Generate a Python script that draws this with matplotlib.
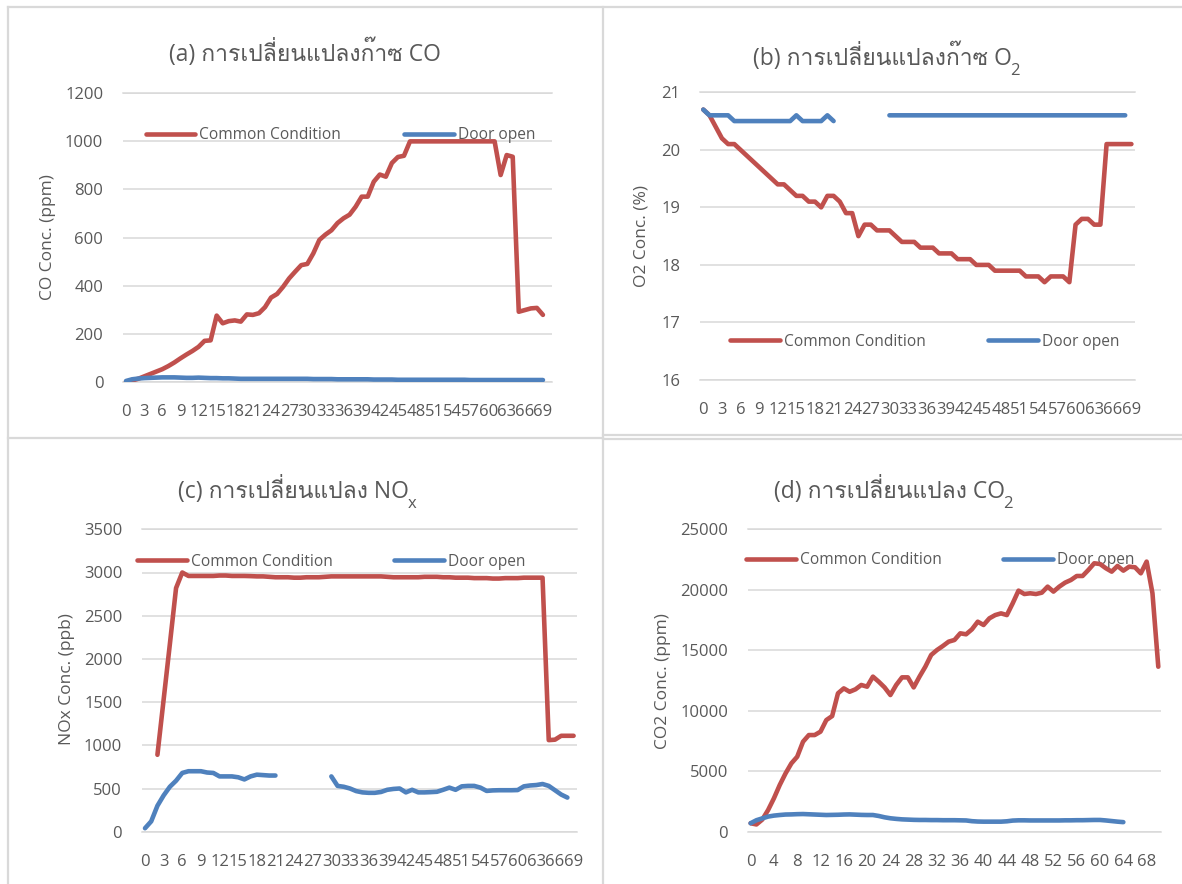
import numpy as np
import matplotlib
matplotlib.use("Agg")
import matplotlib.pyplot as plt
from matplotlib import font_manager
from matplotlib.ft2font import FT2Font
from matplotlib.legend import Legend
from matplotlib.lines import Line2D

nan = np.nan

# ---- data: one reading per minute ----
co_common = [0, 5, 12, 22, 32, 42, 52, 65, 80, 97,
             113, 128, 145, 170, 172, 275, 243, 252, 255, 250,
             280, 278, 285, 310, 350, 365, 395, 430, 458, 485,
             490, 534, 590, 612, 630, 660, 680, 695, 728, 770,
             770, 832, 862, 853, 910, 935, 940, 1000, 1000, 1000,
             1000, 1000, 1000, 1000, 1000, 1000, 1000, 1000, 1000, 1000,
             1000, 1000, 860, 943, 936, 291, 298, 305, 307, 278]
co_door = [3, 10, 13, 15, 16, 17, 18, 18, 18, 17,
           16, 16, 17, 16, 15, 15, 14, 14, 13, 12,
           12, 12, 12, 12, 12, 12, 12, 12, 12, 12,
           12, 11, 11, 11, 11, 10, 10, 10, 10, 10,
           10, 9, 9, 9, 9, 8, 8, 8, 8, 8,
           8, 8, 8, 8, 8, 8, 8, 7, 7, 7,
           7, 7, 7, 7, 7, 7, 7, 7, 7, 7]

o2_common = [20.7, 20.6, 20.4, 20.2, 20.1, 20.1, 20.0, 19.9, 19.8, 19.7,
             19.6, 19.5, 19.4, 19.4, 19.3, 19.2, 19.2, 19.1, 19.1, 19.0,
             19.2, 19.2, 19.1, 18.9, 18.9, 18.5, 18.7, 18.7, 18.6, 18.6,
             18.6, 18.5, 18.4, 18.4, 18.4, 18.3, 18.3, 18.3, 18.2, 18.2,
             18.2, 18.1, 18.1, 18.1, 18.0, 18.0, 18.0, 17.9, 17.9, 17.9,
             17.9, 17.9, 17.8, 17.8, 17.8, 17.7, 17.8, 17.8, 17.8, 17.7,
             18.7, 18.8, 18.8, 18.7, 18.7, 20.1, 20.1, 20.1, 20.1, 20.1]
o2_door = [20.7, 20.6, 20.6, 20.6, 20.6, 20.5, 20.5, 20.5, 20.5, 20.5,
           20.5, 20.5, 20.5, 20.5, 20.5, 20.6, 20.5, 20.5, 20.5, 20.5,
           20.6, 20.5, nan, nan, nan, nan, nan, nan, nan, nan,
           20.6, 20.6, 20.6, 20.6, 20.6, 20.6, 20.6, 20.6, 20.6, 20.6,
           20.6, 20.6, 20.6, 20.6, 20.6, 20.6, 20.6, 20.6, 20.6, 20.6,
           20.6, 20.6, 20.6, 20.6, 20.6, 20.6, 20.6, 20.6, 20.6, 20.6,
           20.6, 20.6, 20.6, 20.6, 20.6, 20.6, 20.6, 20.6, 20.6, nan]

nox_common = [nan, nan, 890, 1530, 2170, 2820, 3000, 2960, 2960, 2960,
              2960, 2960, 2965, 2965, 2960, 2960, 2960, 2958, 2955, 2955,
              2950, 2945, 2945, 2945, 2940, 2940, 2945, 2945, 2945, 2950,
              2955, 2955, 2955, 2955, 2955, 2955, 2955, 2955, 2955, 2950,
              2945, 2945, 2945, 2945, 2945, 2950, 2950, 2950, 2945, 2945,
              2940, 2940, 2940, 2935, 2935, 2935, 2930, 2930, 2935, 2935,
              2935, 2940, 2940, 2940, 2940, 1060, 1065, 1110, 1110, 1110]
nox_door = [40, 120, 300, 420, 520, 590, 680, 700, 700, 700,
            685, 680, 640, 640, 640, 630, 605, 640, 660, 655,
            650, 650, nan, nan, nan, nan, nan, nan, nan, nan,
            640, 530, 520, 500, 470, 455, 450, 450, 460, 485,
            495, 500, 455, 485, 455, 455, 458, 462, 485, 510,
            485, 525, 530, 530, 510, 472, 478, 480, 480, 480,
            482, 525, 535, 540, 552, 530, 480, 430, 395, nan]

co2_common = [700, 600, 1000, 1790, 2760, 3860, 4820, 5650, 6200, 7440,
              7990, 7990, 8270, 9230, 9560, 11440, 11850, 11570, 11770, 12130,
              11990, 12820, 12400, 11930, 11300, 12130, 12760, 12760, 11930, 12820,
              13640, 14610, 15020, 15350, 15710, 15850, 16400, 16320, 16730, 17360,
              17090, 17640, 17910, 18050, 17910, 18880, 19930, 19650, 19710, 19650,
              19760, 20260, 19850, 20260, 20590, 20810, 21140, 21140, 21640, 22190,
              22130, 21780, 21500, 21970, 21580, 21910, 21860, 21360, 22330, 19710,
              13640]
co2_door = [700, 950, 1100, 1250, 1330, 1380, 1420, 1430, 1450, 1460,
            1440, 1420, 1400, 1380, 1390, 1400, 1420, 1430, 1410, 1390,
            1380, 1380, 1300, 1190, 1110, 1060, 1020, 1000, 980, 970,
            970, 960, 960, 950, 950, 950, 940, 930, 870, 840,
            830, 830, 830, 830, 860, 920, 940, 940, 930, 930,
            930, 930, 930, 930, 940, 940, 950, 950, 960, 970,
            970, 930, 880, 830, 790, nan, nan, nan, nan, nan,
            nan]

series_names = ["Common Condition", "Door open"]
titles = ["(a) การเปลี่ยนแปลงก๊าซ CO", "(b) การเปลี่ยนแปลงก๊าซ O",
          "(c) การเปลี่ยนแปลง NO", "(d) การเปลี่ยนแปลง CO"]
title_subs = ["", "2", "x", "2"]
ylabels = ["CO Conc. (ppm)", "O2 Conc. (%)", "NOx Conc. (ppb)", "CO2 Conc. (ppm)"]
yticks = [np.arange(0, 1201, 200), np.arange(16, 22, 1),
          np.arange(0, 3501, 500), np.arange(0, 25001, 5000)]


def find_thai_family():
    for f in font_manager.fontManager.ttflist:
        try:
            if 0x0E01 in FT2Font(f.fname).get_charmap():
                return f.name
        except Exception:
            continue
    return None


thai = find_thai_family()
families = ["Open Sans"] + ([thai] if thai else []) + ["DejaVu Sans"]
plt.rcParams["font.family"] = families

RED = "#C0504D"
BLUE = "#4F81BD"
GRID = "#D9D9D9"
TXT = "#595959"

W, H = 1182, 884
fig = plt.figure(figsize=(W / 100, H / 100), dpi=100)


def fxy(x, y):
    return x / W, 1 - y / H


# chart frames (pixel coordinates, y down)
frames = [((7.5, 7.5), (7.3, 884)), ((603.3, 603.3), (7.3, 884)),
          ((7.5, 1182), (7.3, 7.3)), ((7.5, 603.3), (438.3, 438.3)),
          ((603.3, 1182), (435.2, 435.2)), ((603.3, 1182), (439.3, 439.3))]
for xs, ys in frames:
    fig.add_artist(Line2D([x / W for x in xs], [1 - y / H for y in ys],
                          color=GRID, lw=1.6, transform=fig.transFigure))

panels = [
    # axes box (left, top, right, bottom) px, xlim right, tick step,
    # title (center x, baseline y), ylabel (x, y), legend (red x, blue x, y)
    dict(data=(co_common, co_door), box=(123, 93.3, 552, 381.7), xmax=70.5, step=3,
         title=(305, 61), ylab=(48, 237.5), leg=(145.7, 404, 135)),
    dict(data=(o2_common, o2_door), box=(700.2, 92.3, 1134.5, 380), xmax=69.5, step=3,
         title=(882, 65), ylab=(641.6, 236), leg=(730.2, 988.2, 341.7)),
    dict(data=(nox_common, nox_door), box=(141.9, 529.3, 576.7, 831.7), xmax=69.5, step=3,
         title=(293.7, 498.3), ylab=(67, 679), leg=(136.9, 394.2, 561.7)),
    dict(data=(co2_common, co2_door), box=(747.7, 529.3, 1161.2, 831.7), xmax=70.5, step=4,
         title=(889.6, 498.3), ylab=(663, 681), leg=(746.2, 1003.1, 560)),
]

for i, p in enumerate(panels):
    left, top, right, bottom = p["box"]
    ax = fig.add_axes([left / W, 1 - bottom / H, (right - left) / W, (bottom - top) / H])
    common, door = p["data"]
    x = np.arange(len(common))
    l1, = ax.plot(x, common, color=RED, lw=3.3, solid_capstyle="round",
                  solid_joinstyle="round", zorder=3)
    l2, = ax.plot(x, door, color=BLUE, lw=3.3, solid_capstyle="round",
                  solid_joinstyle="round", zorder=4)

    ax.set_xlim(-0.5, p["xmax"])
    ax.set_ylim(yticks[i][0], yticks[i][-1])
    ax.set_xticks(np.arange(0, len(common), p["step"]))
    ax.set_yticks(yticks[i])
    ax.yaxis.grid(True, color=GRID, lw=1.1)
    ax.set_axisbelow(True)
    for side in ["left", "right"]:
        ax.spines[side].set_visible(False)
    for side in ["top", "bottom"]:
        ax.spines[side].set_color(GRID)
        ax.spines[side].set_linewidth(1.1)
    ax.tick_params(axis="both", length=0, labelsize=12, labelcolor=TXT)
    ax.tick_params(axis="x", pad=15.8)
    ax.tick_params(axis="y", pad=14.2)

    ax.set_ylabel(ylabels[i], fontsize=12.5, color=TXT, ha="center", va="center")
    ax.yaxis.set_label_coords(*fxy(*p["ylab"]), transform=fig.transFigure)

    tx, ty = p["title"]
    t = fig.text(*fxy(tx, ty), titles[i], ha="center", va="baseline",
                 fontsize=16.5, color=TXT)
    if title_subs[i]:
        # subscript sits just after the title's last letter, dropped below the baseline
        fig.add_artist(plt.Annotation(title_subs[i], xy=(1, 1 - (ty + 10) / H),
                                      xycoords=(t, fig.transFigure),
                                      xytext=(-1.2, 0), textcoords="offset points",
                                      ha="left", va="baseline", fontsize=12, color=TXT))

    rx, bx, ly = p["leg"]
    for handle, name, lx in [(l1, series_names[0], rx), (l2, series_names[1], bx)]:
        leg = Legend(ax, [handle], [name], loc="center left",
                     bbox_to_anchor=fxy(lx, ly), bbox_transform=fig.transFigure,
                     frameon=False, borderpad=0, borderaxespad=0,
                     handlelength=3.2, handletextpad=0.25, fontsize=11.2,
                     labelcolor=TXT)
        leg.set_zorder(2)
        ax.add_artist(leg)

fig.savefig("out.png", dpi=100)
